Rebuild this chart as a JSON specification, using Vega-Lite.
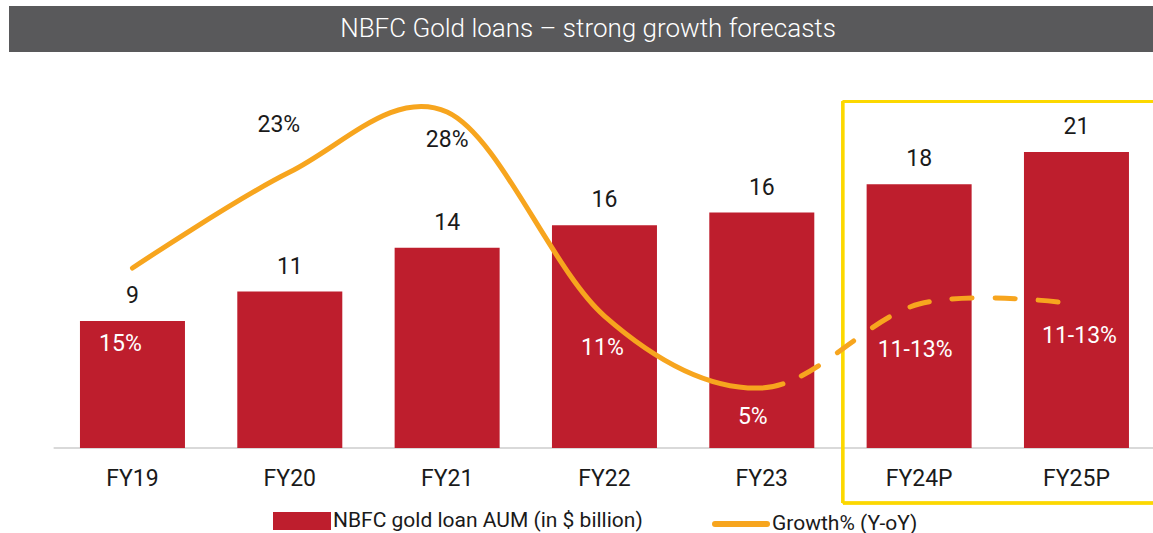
{
  "$schema": "https://vega.github.io/schema/vega-lite/v6.json",
  "padding": {"left": 9, "top": 6, "right": 0, "bottom": 0},
  "background": "white",
  "config": {
    "view": {"stroke": null},
    "font": "Roboto",
    "concat": {"spacing": 10}
  },
  "datasets": {
    "d": [
      {"year": "FY19", "aum": 9.0, "aumLabel": "9", "growth": 15, "label": "15%"},
      {"year": "FY20", "aum": 11.1, "aumLabel": "11", "growth": 23, "label": "23%"},
      {"year": "FY21", "aum": 14.2, "aumLabel": "14", "growth": 28, "label": "28%"},
      {"year": "FY22", "aum": 15.8, "aumLabel": "16", "growth": 11, "label": "11%"},
      {"year": "FY23", "aum": 16.7, "aumLabel": "16", "growth": 5, "label": "5%"},
      {"year": "FY24P", "aum": 18.7, "aumLabel": "18", "growth": 12, "label": "11-13%"},
      {"year": "FY25P", "aum": 21.0, "aumLabel": "21", "growth": 12, "label": "11-13%"}
    ]
  },
  "vconcat": [
    {
      "width": 1144,
      "height": 46,
      "view": {"fill": "#59595b", "stroke": null},
      "data": {"values": [{"t": "NBFC Gold loans – strong growth forecasts"}]},
      "mark": {"type": "text", "color": "white", "fontSize": 26, "fontWeight": 300, "dx": 7, "baseline": "middle"},
      "encoding": {"text": {"field": "t"}}
    },
    {
      "width": 1144,
      "height": 386,
      "data": {"name": "d"},
      "encoding": {
        "x": {
          "field": "year",
          "type": "nominal",
          "sort": null,
          "scale": {
            "domain": ["FY19", "FY20", "FY21", "FY22", "FY23", "FY24P", "FY25P"],
            "paddingInner": 0.3326,
            "paddingOuter": 0.3019,
            "align": 0.747
          },
          "axis": {
            "title": null,
            "domain": false,
            "ticks": false,
            "labelFontSize": 23,
            "labelColor": "#1a1a1a",
            "labelPadding": 19,
            "labelAngle": 0
          }
        }
      },
      "layer": [
        {
          "mark": {"type": "rule", "color": "#d9d9d9", "strokeWidth": 1.5},
          "encoding": {
            "x": {"datum": "FY19", "bandPosition": -0.248},
            "x2": {"datum": "FY25P", "bandPosition": 1.229},
            "y": {"datum": 0, "type": "quantitative", "scale": {"domain": [0, 27.38], "nice": false}, "axis": null}
          }
        },
        {
          "mark": {"type": "bar", "color": "#be1e2d"},
          "encoding": {
            "y": {"field": "aum", "type": "quantitative", "scale": {"domain": [0, 27.38], "nice": false}, "axis": null},
            "color": {
              "datum": "NBFC gold loan AUM (in $ billion)",
              "scale": {"domain": ["NBFC gold loan AUM (in $ billion)", "Growth% (Y-oY)"], "range": ["#be1e2d", "#f7a51e"]},
              "legend": {
                "title": null,
                "orient": "none",
                "legendX": 280,
                "legendY": 502,
                "padding": 0,
                "direction": "horizontal",
                "symbolType": "M-2.6,-0.6H2.6V0.6H-2.6Z",
                "symbolSize": 400,
                "symbolStrokeWidth": 5,
                "labelFontSize": 21,
                "labelColor": "#1a1a1a",
                "labelOffset": 18,
                "labelLimit": 500,
                "columnPadding": 60,
                "encoding": {
                  "symbols": {
                    "shape": {"value": {"expr": "datum.value === 'Growth% (Y-oY)' ? 'M-2.6,0H2.6' : 'M-2.6,-0.6H2.6V0.6H-2.6Z'"}},
                    "fill": {"value": {"expr": "datum.value === 'Growth% (Y-oY)' ? 'transparent' : '#be1e2d'"}},
                    "stroke": {"value": {"expr": "datum.value === 'Growth% (Y-oY)' ? '#f7a51e' : 'transparent'"}},
                    "strokeWidth": {"value": 6},
                    "strokeCap": {"value": "round"},
                    "opacity": {"value": 1}
                  }
                }
              }
            }
          }
        },
        {
          "mark": {"type": "rule", "color": "#fcd800", "strokeWidth": 2.5},
          "encoding": {
            "x": {"datum": "FY24P", "bandPosition": -0.226},
            "x2": {"datum": "FY25P", "bandPosition": 1.229},
            "y": {"datum": 24.6, "type": "quantitative", "scale": {"domain": [0, 27.38], "nice": false}, "axis": null}
          }
        },
        {
          "mark": {"type": "rule", "color": "#fcd800", "strokeWidth": 2.5},
          "encoding": {
            "x": {"datum": "FY24P", "bandPosition": -0.226},
            "x2": {"datum": "FY25P", "bandPosition": 1.229},
            "y": {"datum": -3.9, "type": "quantitative", "scale": {"domain": [0, 27.38], "nice": false}, "axis": null}
          }
        },
        {
          "mark": {"type": "rule", "color": "#fcd800", "strokeWidth": 2.5},
          "encoding": {
            "x": {"datum": "FY24P", "bandPosition": -0.226},
            "y": {"datum": 24.6, "type": "quantitative", "scale": {"domain": [0, 27.38], "nice": false}, "axis": null},
            "y2": {"datum": -3.9}
          }
        },
        {
          "mark": {
            "type": "line",
            "interpolate": "cardinal",
            "strokeWidth": 5,
            "strokeCap": "round",
            "strokeDash": [818, 20, 20, 23, 20, 23, 20, 23, 20, 23, 20, 23, 20, 23, 20, 23, 20, 23, 20, 23, 20, 23, 20, 23]
          },
          "encoding": {
            "y": {"field": "growth", "type": "quantitative", "scale": {"domain": [0, 32.17], "nice": false}, "axis": null},
            "color": {"datum": "Growth% (Y-oY)"}
          }
        },
        {
          "mark": {"type": "text", "fontSize": 23, "color": "#1a1a1a", "baseline": "alphabetic", "dy": -18},
          "encoding": {
            "y": {"field": "aum", "type": "quantitative", "scale": {"domain": [0, 27.38], "nice": false}, "axis": null},
            "text": {"field": "aumLabel"}
          }
        },
        {
          "transform": [{"filter": "datum.year === 'FY20'"}],
          "mark": {"type": "text", "fontSize": 23, "color": "#1a1a1a", "baseline": "alphabetic", "dx": -11, "dy": -40},
          "encoding": {
            "y": {"field": "growth", "type": "quantitative", "scale": {"domain": [0, 32.17], "nice": false}, "axis": null},
            "text": {"field": "label"}
          }
        },
        {
          "transform": [{"filter": "datum.year === 'FY21'"}],
          "mark": {"type": "text", "fontSize": 23, "color": "#1a1a1a", "baseline": "alphabetic", "dx": 0, "dy": 35},
          "encoding": {
            "y": {"field": "growth", "type": "quantitative", "scale": {"domain": [0, 32.17], "nice": false}, "axis": null},
            "text": {"field": "label"}
          }
        },
        {
          "transform": [{"filter": "datum.year === 'FY19'"}],
          "mark": {"type": "text", "fontSize": 23, "color": "white", "baseline": "alphabetic", "dx": -12, "dy": 83},
          "encoding": {
            "y": {"field": "growth", "type": "quantitative", "scale": {"domain": [0, 32.17], "nice": false}, "axis": null},
            "text": {"field": "label"}
          }
        },
        {
          "transform": [{"filter": "datum.year === 'FY22'"}],
          "mark": {"type": "text", "fontSize": 23, "color": "white", "baseline": "alphabetic", "dx": -2, "dy": 39},
          "encoding": {
            "y": {"field": "growth", "type": "quantitative", "scale": {"domain": [0, 32.17], "nice": false}, "axis": null},
            "text": {"field": "label"}
          }
        },
        {
          "transform": [{"filter": "datum.year === 'FY23'"}],
          "mark": {"type": "text", "fontSize": 23, "color": "white", "baseline": "alphabetic", "dx": -9, "dy": 36},
          "encoding": {
            "y": {"field": "growth", "type": "quantitative", "scale": {"domain": [0, 32.17], "nice": false}, "axis": null},
            "text": {"field": "label"}
          }
        },
        {
          "transform": [{"filter": "datum.year === 'FY24P'"}],
          "mark": {"type": "text", "fontSize": 23, "color": "white", "baseline": "alphabetic", "dx": -4, "dy": 53},
          "encoding": {
            "y": {"field": "growth", "type": "quantitative", "scale": {"domain": [0, 32.17], "nice": false}, "axis": null},
            "text": {"field": "label"}
          }
        },
        {
          "transform": [{"filter": "datum.year === 'FY25P'"}],
          "mark": {"type": "text", "fontSize": 23, "color": "white", "baseline": "alphabetic", "dx": 3, "dy": 39},
          "encoding": {
            "y": {"field": "growth", "type": "quantitative", "scale": {"domain": [0, 32.17], "nice": false}, "axis": null},
            "text": {"field": "label"}
          }
        }
      ],
      "resolve": {"scale": {"y": "independent"}}
    }
  ]
}
